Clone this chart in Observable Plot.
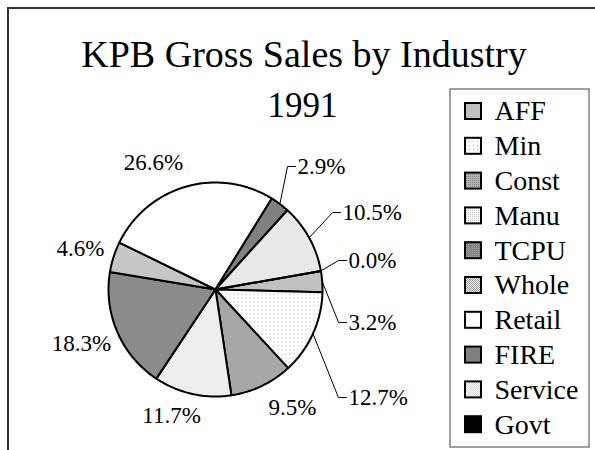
<!DOCTYPE html>
<html>
<head>
<meta charset="utf-8">
<script src="https://cdn.jsdelivr.net/npm/d3@7"></script>
<script src="https://cdn.jsdelivr.net/npm/@observablehq/plot@0.6"></script>
<style>
  html, body { margin: 0; padding: 0; background: #fff; }
  #wrap { position: relative; width: 595px; height: 450px; overflow: hidden; background: #fff; }
  #border { position: absolute; left: 7px; top: 7px; width: 700px; height: 600px; border: 2px solid #333; pointer-events: none; }
</style>
</head>
<body>
<svg width="0" height="0" style="position:absolute">
  <defs>
    <pattern id="p-aff" width="2" height="2" patternUnits="userSpaceOnUse"><rect width="2" height="2" fill="#c0c0c0"/></pattern>
    <pattern id="p-min" width="4" height="4" patternUnits="userSpaceOnUse"><rect width="4" height="4" fill="#fff"/><rect x="1" y="1" width="1" height="1" fill="#b0b0b0"/></pattern>
    <pattern id="p-const" width="2" height="2" patternUnits="userSpaceOnUse"><rect width="2" height="2" fill="#b2b2b2"/><rect width="1" height="1" fill="#858585"/></pattern>
    <pattern id="p-manu" width="2" height="2" patternUnits="userSpaceOnUse"><rect width="2" height="2" fill="#fff"/><rect width="1" height="1" fill="#bcbcbc"/></pattern>
    <pattern id="p-tcpu" width="2" height="2" patternUnits="userSpaceOnUse"><rect width="2" height="2" fill="#828282"/><rect width="1" height="1" fill="#a4a4a4"/></pattern>
    <pattern id="p-whole" width="2" height="2" patternUnits="userSpaceOnUse"><rect width="2" height="2" fill="#f2f2f2"/><rect width="1" height="1" fill="#999"/><rect x="1" y="1" width="1" height="1" fill="#999"/></pattern>
    <pattern id="p-retail" width="2" height="2" patternUnits="userSpaceOnUse"><rect width="2" height="2" fill="#fff"/></pattern>
    <pattern id="p-fire" width="2" height="2" patternUnits="userSpaceOnUse"><rect width="2" height="2" fill="#808080"/></pattern>
    <pattern id="p-service" width="2" height="2" patternUnits="userSpaceOnUse"><rect width="2" height="2" fill="#fff"/><rect width="1" height="1" fill="#d0d0d0"/><rect x="1" y="1" width="1" height="1" fill="#d0d0d0"/></pattern>
    <pattern id="p-govt" width="2" height="2" patternUnits="userSpaceOnUse"><rect width="2" height="2" fill="#000"/></pattern>
  </defs>
</svg>
<div id="wrap"><div id="chart"></div><div id="border"></div></div>
<script>
// ---- data ----
const title = "KPB Gross Sales by Industry";
const subtitle = "1991";
const categories = ["AFF", "Min", "Const", "Manu", "TCPU", "Whole", "Retail", "FIRE", "Service", "Govt"];
const shares = [3.2, 12.7, 9.5, 11.7, 18.3, 4.6, 26.6, 2.9, 10.5, 0.0];

// ---- styles / layout ----
const fills = ["url(#p-aff)", "url(#p-min)", "url(#p-const)", "url(#p-manu)", "url(#p-tcpu)",
               "url(#p-whole)", "url(#p-retail)", "url(#p-fire)", "url(#p-service)", "url(#p-govt)"];
const startAngle = 80;               // degrees clockwise from 12 o'clock
const labelAngle = [103.9, 129.1, 146.9, 199.2, 248.0, 286.9, 334.0, 33.7, 58.8, 77.7];
const labelRadius = [1.281, 1.601, 1.317, 1.248, 1.350, 1.319, 1.321, 1.382, 1.388, 1.272];
const hasLeader = [true, true, false, false, false, false, false, true, true, true];
const W = 595, H = 450, CX = 215, CY = 289, R = 107;
const font = "'Liberation Serif', 'Times New Roman', serif";
const px2x = px => (px - CX) / R;
const py2y = py => (CY - py) / R;
const rad = a => a * Math.PI / 180;

// ---- pie geometry from the data ----
const total = d3.sum(shares);
let acc = 0;
const slices = categories.map((c, i) => {
  const a0 = startAngle + acc / total * 360;
  acc += shares[i];
  const a1 = startAngle + acc / total * 360;
  return {c, i, a0, a1, mid: (a0 + a1) / 2};
});
const piePts = [];
for (const s of slices) {
  piePts.push({k: s.i, x: 0, y: 0});
  const n = Math.max(2, Math.ceil((s.a1 - s.a0) / 1));
  for (let j = 0; j <= n; j++) {
    const a = rad(s.a0 + (s.a1 - s.a0) * j / n);
    piePts.push({k: s.i, x: Math.sin(a), y: Math.cos(a)});
  }
  piePts.push({k: s.i, x: 0, y: 0});
}
const labelData = slices.map(s => ({
  i: s.i,
  text: shares[s.i].toFixed(1) + "%",
  x: labelRadius[s.i] * Math.sin(rad(labelAngle[s.i])),
  y: labelRadius[s.i] * Math.cos(rad(labelAngle[s.i])),
  mid: s.mid
}));
const leaderPts = [];
for (const l of labelData.filter(l => hasLeader[l.i])) {
  const a = rad(l.mid);
  leaderPts.push({k: l.i, x: Math.sin(a), y: Math.cos(a)});
  leaderPts.push({k: l.i, x: l.x - 10 / R, y: l.y});
  leaderPts.push({k: l.i, x: l.x - 2 / R, y: l.y});
}
const legendTop = 111, legendStep = 34.8;

const chart = Plot.plot({
  width: W, height: H, margin: 0,
  x: {domain: [px2x(0), px2x(W)], axis: null},
  y: {domain: [py2y(H), py2y(0)], axis: null},
  color: {type: "identity"},
  style: {background: "transparent", fontFamily: font},
  marks: [
    Plot.line(piePts, {x: "x", y: "y", z: "k", fill: d => fills[d.k], stroke: "black", strokeWidth: 2, strokeLinejoin: "round"}),
    Plot.line(leaderPts, {x: "x", y: "y", z: "k", stroke: "black", strokeWidth: 1}),
    Plot.text(labelData.filter(l => hasLeader[l.i]), {x: "x", y: "y", text: "text", textAnchor: "start", fontSize: 23, fontFamily: font, fill: "black"}),
    Plot.text(labelData.filter(l => !hasLeader[l.i]), {x: "x", y: "y", text: "text", textAnchor: "middle", fontSize: 23, fontFamily: font, fill: "black"}),
    Plot.text([title], {x: () => px2x(303.5), y: () => py2y(66), text: d => d, textAnchor: "middle", lineAnchor: "bottom", fontSize: 38, fontFamily: font, fill: "black"}),
    Plot.text([subtitle], {x: () => px2x(302), y: () => py2y(116), text: d => d, textAnchor: "middle", lineAnchor: "bottom", fontSize: 35, fontFamily: font, fill: "black"}),
    Plot.rect([0], {x1: () => px2x(450), x2: () => px2x(589), y1: () => py2y(89), y2: () => py2y(447), fill: "white", stroke: "#444", strokeWidth: 1}),
    Plot.rect(categories, {x1: () => px2x(465), x2: () => px2x(481), y1: (d, i) => py2y(legendTop + i * legendStep - 8), y2: (d, i) => py2y(legendTop + i * legendStep + 8), fill: (d, i) => fills[i], stroke: "black", strokeWidth: 2}),
    Plot.text(categories, {x: () => px2x(494), y: (d, i) => py2y(legendTop + i * legendStep), text: d => d, textAnchor: "start", fontSize: 28, fontFamily: font, fill: "black"})
  ]
});
document.getElementById("chart").appendChild(chart);
</script>
</body>
</html>
